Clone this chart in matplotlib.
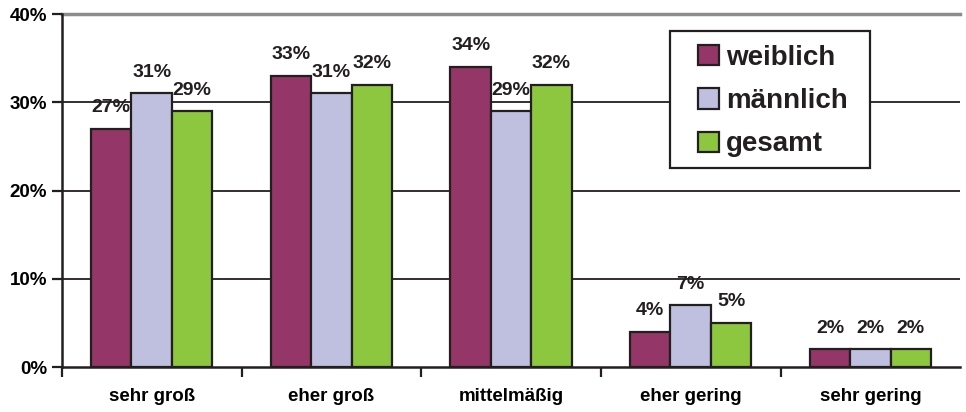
import numpy as np
import matplotlib
matplotlib.use("Agg")
import matplotlib.pyplot as plt
from matplotlib.patches import Rectangle

categories = ["sehr groß", "eher groß", "mittelmäßig", "eher gering", "sehr gering"]
series = ["weiblich", "männlich", "gesamt"]
weiblich = [27, 33, 34, 4, 2]
maennlich = [31, 31, 29, 7, 2]
gesamt = [29, 32, 32, 5, 2]
values = [weiblich, maennlich, gesamt]
colors = ["#943668", "#bfc0e0", "#8dc63f"]

plt.rcParams['font.family'] = ['Liberation Sans', 'DejaVu Sans']
plt.rcParams['font.weight'] = 'bold'

W, H = 966, 412
fig = plt.figure(figsize=(W / 100, H / 100), dpi=100)
ax = fig.add_axes([0.064, 0.109, 0.93, 0.857])

x = np.arange(len(categories))
w = 0.225
for i, (name, vals) in enumerate(zip(series, values)):
    pos = x + (i - 1) * w
    ax.bar(pos, vals, w, color=colors[i], edgecolor="#231f20", linewidth=1.6,
           label=name, zorder=3)
    for xp, v in zip(pos, vals):
        ax.annotate(f"{v}%", (xp, v), xytext=(0, 9), textcoords="offset points",
                    ha="center", va="bottom", fontsize=14, fontweight="bold",
                    color="#231f20", zorder=4)

ax.set_xlim(-0.5, len(categories) - 0.5)
ax.set_ylim(0, 40)
ax.set_yticks([0, 10, 20, 30, 40])
ax.set_yticklabels([f"{t}%" for t in [0, 10, 20, 30, 40]])
ax.set_xticks(x)
ax.set_xticklabels(categories)
ax.set_xticks(np.arange(len(categories)) - 0.5, minor=True)
ax.tick_params(axis="x", which="major", length=0, pad=15, labelsize=13.5)
ax.tick_params(axis="x", which="minor", length=7, width=1.6, color="#231f20")
ax.tick_params(axis="y", length=7, width=1.6, color="#231f20", labelsize=13.5)

for t in [10, 20, 30]:
    ax.axhline(t, color="#231f20", linewidth=1.3, zorder=1)
ax.axhline(40, color="#8c8c8c", linewidth=2.5, zorder=1, clip_on=False)

for s in ["top", "right"]:
    ax.spines[s].set_visible(False)
for s in ["left", "bottom"]:
    ax.spines[s].set_linewidth(1.8)
    ax.spines[s].set_color("#231f20")
    ax.spines[s].set_zorder(5)

# legend box drawn separately so its padding matches the original
ax.add_patch(Rectangle((670 / W, 1 - 168 / H), 200 / W, 137 / H,
                       transform=fig.transFigure, facecolor="white",
                       edgecolor="#231f20", linewidth=1.6, zorder=6,
                       clip_on=False))
leg = ax.legend(loc="upper left", bbox_to_anchor=(698 / W, 1 - 45 / H),
                bbox_transform=fig.transFigure, fontsize=20, frameon=False,
                handlelength=0.75, handleheight=0.75, handletextpad=0.25,
                labelspacing=0.62, borderpad=0, borderaxespad=0)
leg.set_zorder(7)
for t in leg.get_texts():
    t.set_fontweight("bold")
    t.set_color("#231f20")

fig.savefig("out.png", dpi=100)
